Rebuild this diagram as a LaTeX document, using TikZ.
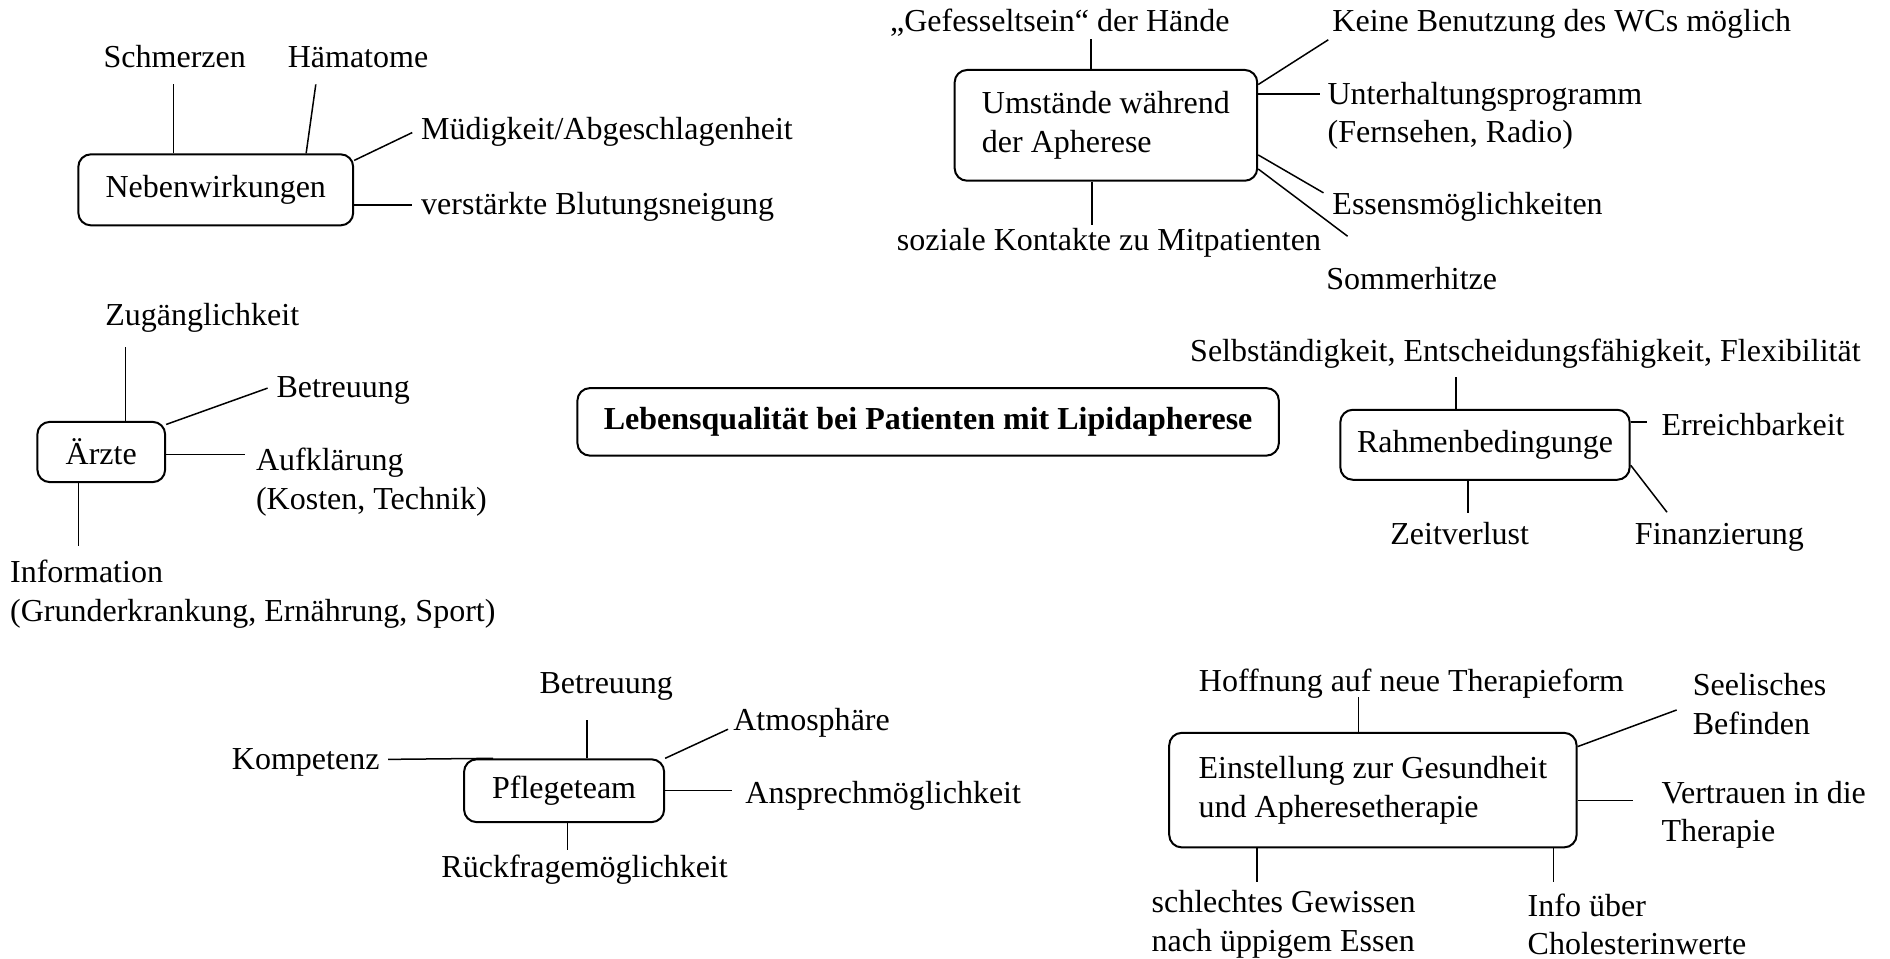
\documentclass[tikz,border=0pt]{standalone}
\usepackage{fontspec}
\setmainfont{Liberation Serif}
\usetikzlibrary{positioning}
\tikzset{every picture/.style={/utils/exec={\fontsize{12.8}{15.4}\selectfont}}}

\begin{document}
\begin{tikzpicture}[x=0.482pt, y=-0.482pt,
    topic/.style={draw=black, line width=0.8pt, rounded corners=5pt, inner sep=0pt},
    item/.style={inner sep=0pt},
    items/.style={inner sep=0pt, align=left},
    link/.style={line width=0.6pt}]
    \useasboundingbox (0,0) rectangle (1568,795);

    % main topic
    \node[topic, minimum width=280.5pt, minimum height=27pt] (main) at (770,350) {\textbf{Lebensqualität bei Patienten mit Lipidapherese}};

    % Nebenwirkungen
    \node[topic, minimum width=109.9pt, minimum height=28.4pt] (neben) at (179,157.5) {Nebenwirkungen};
    \node[item, anchor=base] (schmerz) at (145,56) {Schmerzen};
    \node[item, anchor=base] (haema) at (297,56) {Hämatome};
    \node[item, anchor=base west] (muedig) at (349,116) {Müdigkeit/Abgeschlagenheit};
    \node[item, anchor=base west] (blutung) at (349,178) {verstärkte Blutungsneigung};
    \coordinate (schmerzE) at (144,70);
    \coordinate (haemaE) at (262,70);
    \coordinate (muedigE) at (342,110);
    \coordinate (blutungE) at (342,170);
    \draw[link] (neben.north -| schmerzE) -- (schmerzE);
    \draw[link] (neben.22.6) -- (haemaE);
    \draw[link] (neben.12.6) -- (muedigE);
    \draw[link] (neben.east |- blutungE) -- (blutungE);

    % Umstaende
    \node[topic, minimum width=121pt, minimum height=44.3pt, align=left] (umst) at (917.5,104) {Umstände während\\der Apherese};
    \node[item, anchor=base west] (fessel) at (738,26) {„Gefesseltsein“ der Hände};
    \node[item, anchor=base west] (wc) at (1105,26) {Keine Benutzung des WCs möglich};
    \node[items, anchor=west] (unterh) at (1101,96) {Unterhaltungsprogramm\\(Fernsehen, Radio)};
    \node[item, anchor=base west] (essen) at (1105,178) {Essensmöglichkeiten};
    \node[item, anchor=base west] (hitze) at (1100,240) {Sommerhitze};
    \node[item, anchor=base] (sozial) at (920,208) {soziale Kontakte zu Mitpatienten};
    \coordinate (fesselE) at (905,32);
    \coordinate (wcE) at (1102,33);
    \coordinate (unterhE) at (1095,78);
    \coordinate (essenE) at (1098,160);
    \coordinate (hitzeE) at (1118,196);
    \coordinate (sozialE) at (906,187);
    \draw[link] (umst.north -| fesselE) -- (fesselE);
    \draw[link] (umst.15.2) -- (wcE);
    \draw[link] (umst.east |- unterhE) -- (unterhE);
    \draw[link] (umst.-11.7) -- (essenE);
    \draw[link] (umst.-16) -- (hitzeE);
    \draw[link] (umst.south -| sozialE) -- (sozialE);

    % Aerzte
    \node[topic, minimum width=51.1pt, minimum height=24.1pt] (aerzte) at (84,375) {Ärzte};
    \node[item, anchor=base west] (zugang) at (87,270) {Zugänglichkeit};
    \node[item, anchor=base west] (betrA) at (229,330) {Betreuung};
    \node[items, anchor=west] (aufkl) at (212,400) {Aufklärung\\(Kosten, Technik)};
    \node[items, anchor=west] (info) at (8,493) {Information\\(Grunderkrankung, Ernährung, Sport)};
    \coordinate (zugangE) at (104,288);
    \coordinate (betrAE) at (222,322);
    \coordinate (aufklE) at (203,377);
    \coordinate (infoE) at (65,453);
    \draw[link] (aerzte.north -| zugangE) -- (zugangE);
    \draw[link] (aerzte.23.5) -- (betrAE);
    \draw[link] (aerzte.east |- aufklE) -- (aufklE);
    \draw[link] (aerzte.south -| infoE) -- (infoE);

    % Rahmenbedingungen
    \node[topic, minimum width=115.7pt, minimum height=28pt] (rahmen) at (1232,369) {Rahmenbedingunge};
    \node[item, anchor=base west] (selbst) at (987,300) {Selbständigkeit, Entscheidungsfähigkeit, Flexibilität};
    \node[item, anchor=base west] (erreich) at (1378,361) {Erreichbarkeit};
    \node[item, anchor=base] (zeit) at (1211,452) {Zeitverlust};
    \node[item, anchor=base west] (finanz) at (1356,452) {Finanzierung};
    \coordinate (selbstE) at (1208,313);
    \coordinate (erreichE) at (1366,350);
    \coordinate (zeitE) at (1218,426);
    \coordinate (finanzE) at (1383,425);
    \draw[link] (rahmen.north -| selbstE) -- (selbstE);
    \draw[link] (rahmen.east |- erreichE) -- (erreichE);
    \draw[link] (rahmen.south -| zeitE) -- (zeitE);
    \draw[link] (rahmen.-8.5) -- (finanzE);

    % Pflegeteam
    \node[topic, minimum width=80pt, minimum height=25.1pt] (pflege) at (468,656) {Pflegeteam};
    \node[item, anchor=base] (betrP) at (503,575) {Betreuung};
    \node[item, anchor=base west] (atmos) at (608,606) {Atmosphäre};
    \node[item, anchor=base west] (kompet) at (192,638) {Kompetenz};
    \node[item, anchor=base west] (ansprech) at (618,667) {Ansprechmöglichkeit};
    \node[item, anchor=base] (rueck) at (485,728) {Rückfragemöglichkeit};
    \coordinate (betrPE) at (487,597);
    \coordinate (atmosE) at (604,605);
    \coordinate (kompetE) at (322,630);
    \coordinate (ansprechE) at (607,656);
    \coordinate (rueckE) at (471,705);
    \draw[link] (pflege.north -| betrPE) -- (betrPE);
    \draw[link] (pflege.north east) -- (atmosE);
    \draw[link] ([xshift=12pt]pflege.north west) -- (kompetE);
    \draw[link] (pflege.east |- ansprechE) -- (ansprechE);
    \draw[link] (pflege.south -| rueckE) -- (rueckE);

    % Einstellung
    \node[topic, minimum width=162.9pt, minimum height=45.8pt, align=left] (einst) at (1139,655.5) {Einstellung zur Gesundheit\\und Apheresetherapie};
    \node[item, anchor=base] (hoffn) at (1171,574) {Hoffnung auf neue Therapieform};
    \node[items, anchor=west] (seele) at (1404,584) {Seelisches\\Befinden};
    \node[items, anchor=west] (vertr) at (1378,676) {Vertrauen in die\\Therapie};
    \node[items, anchor=west] (gewiss) at (955,767) {schlechtes Gewissen\\nach üppigem Essen};
    \node[items, anchor=west] (chol) at (1267,767) {Info über\\Cholesterinwerte};
    \coordinate (hoffnE) at (1127,578);
    \coordinate (seeleE) at (1391,589);
    \coordinate (vertrE) at (1355,664);
    \coordinate (gewissE) at (1043,732);
    \coordinate (cholE) at (1289,732);
    \draw[link] (einst.north -| hoffnE) -- (hoffnE);
    \draw[link] (einst.12.8) -- (seeleE);
    \draw[link] (einst.east |- vertrE) -- (vertrE);
    \draw[link] (einst.south -| gewissE) -- (gewissE);
    \draw[link] (einst.south -| cholE) -- (cholE);

\end{tikzpicture}
\end{document}
